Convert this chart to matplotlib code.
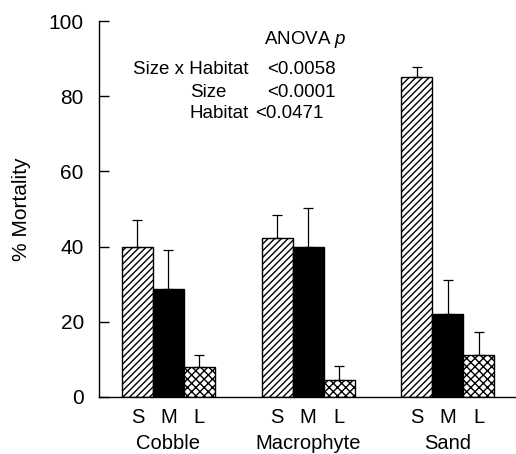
import numpy as np
import matplotlib.pyplot as plt

plt.rcParams['font.family'] = ['Liberation Sans', 'DejaVu Sans']
plt.rcParams['mathtext.fontset'] = 'custom'
plt.rcParams['mathtext.rm'] = 'Liberation Sans'
plt.rcParams['mathtext.it'] = 'Liberation Sans:italic'
plt.rcParams['hatch.linewidth'] = 1.0

habitats = ['Cobble', 'Macrophyte', 'Sand']
sizes = ['S', 'M', 'L']
mortality_S = [40.0, 42.2, 85.0]
mortality_M = [28.6, 40.0, 22.2]
mortality_L = [8.0, 4.5, 11.2]
err_S = [7.2, 6.2, 2.8]
err_M = [10.4, 10.4, 8.9]
err_L = [3.2, 3.8, 6.0]

anova_terms = ['Size x Habitat', 'Size', 'Habitat']
anova_p = ['<0.0058', '<0.0001', '<0.0471']

fig = plt.figure(figsize=(5.16, 4.54), dpi=100)
ax = fig.add_axes([0.192, 0.1256, 0.806, 0.828])

x = np.arange(len(habitats))
w = 0.222
ekw = dict(elinewidth=0.9, capthick=0.9, capsize=3.5, ecolor='black')

ax.bar(x - w, mortality_S, w, yerr=[np.zeros(3), err_S], color='white',
       edgecolor='black', hatch='/////', linewidth=1.0, error_kw=ekw)
ax.bar(x, mortality_M, w, yerr=[np.zeros(3), err_M], color='black',
       edgecolor='black', linewidth=1.0, error_kw=ekw)
ax.bar(x + w, mortality_L, w, yerr=[np.zeros(3), err_L], color='white',
       edgecolor='black', hatch='xxxx', linewidth=1.0, error_kw=ekw)

ax.set_ylim(0, 100)
ax.set_xlim(-0.496, 2.48)
ax.set_yticks([0, 20, 40, 60, 80, 100])
ax.tick_params(axis='y', direction='in', length=7, width=1, labelsize=15, pad=11)

pos = np.concatenate([[g - w, g, g + w] for g in x])
ax.set_xticks(pos, sizes * 3)
ax.tick_params(axis='x', length=0, labelsize=14.5, pad=8)
for g, name in zip(x, habitats):
    ax.text(g, -12.4, name, ha='center', va='center', fontsize=14.5)

ax.spines['top'].set_visible(False)
ax.spines['right'].set_visible(False)
ax.spines['left'].set_linewidth(1.0)
ax.spines['bottom'].set_linewidth(1.0)

ax.set_ylabel('% Mortality', fontsize=15)
ax.yaxis.set_label_coords(-0.163, 0.5)

fs = 13.5
ax.text(0.682, 95.0, 'ANOVA $\\it{p}$', ha='left', va='center', fontsize=fs)
ys = [87.0, 81.1, 75.5]
ax.text(0.575, ys[0], anova_terms[0], ha='right', va='center', fontsize=fs)
ax.text(0.154, ys[1], anova_terms[1], ha='left', va='center', fontsize=fs)
ax.text(0.154, ys[2], anova_terms[2], ha='left', va='center', fontsize=fs)
for yy, p, xp in zip(ys, anova_p, [0.704, 0.704, 0.62]):
    ax.text(xp, yy, p, ha='left', va='center', fontsize=fs)

fig.savefig('out.png', dpi=100)
